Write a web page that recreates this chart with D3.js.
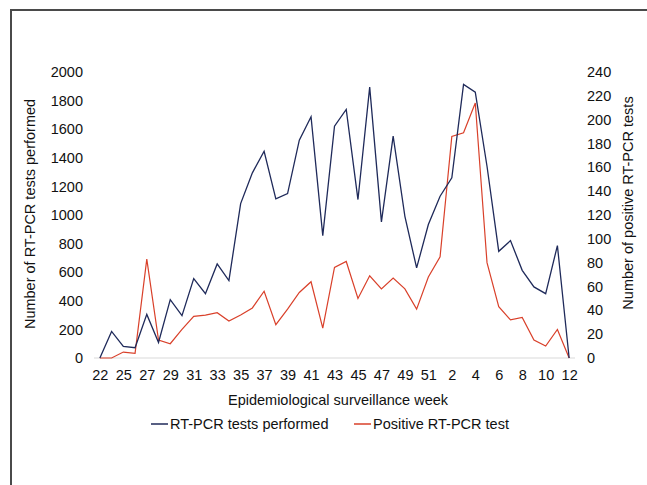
<!DOCTYPE html>
<html>
<head>
<meta charset="utf-8">
<script src="https://cdn.jsdelivr.net/npm/d3@7"></script>
<style>
  body { margin: 0; background: #fff; }
  text { font-family: "Liberation Sans", Arial, sans-serif; fill: #111; }
</style>
</head>
<body>
<div id="chart"></div>
<script>
// epidemiological weeks (every other one is labelled on the axis)
const weeks = ["22","24","25","26","27","28","29","30","31","32","33","34","35","36","37","38","39","40","41","42",
  "43","44","45","46","47","48","49","50","51","52","2","3","4","5","6","7","8","9","10","11","12"]

// RT-PCR tests performed (left axis)
const testsPerformed = [0,186,81,72,305,109,408,296,555,450,658,541,1080,1295,1446,1113,1150,1523,1687,856,
  1621,1738,1108,1894,952,1551,991,630,933,1131,1260,1913,1859,1341,746,821,613,497,450,786,0]

// positive RT-PCR tests (right axis)
const positiveTests = [0,0,5,4,83,15,12,24,35,36,38,31,36,42,56,28,41,55,64,25,
  76,81,50,69,58,67,58,41,68,85,186,189,214,80,43,32,34,15,10,24,0]

const leftTicks = d3.range(0, 2001, 200)
const rightTicks = d3.range(0, 241, 20)

const W = 647, H = 485
const plot = {left: 94, right: 575, top: 72, bottom: 358}
const fs = 14.5

const svg = d3.select("#chart").append("svg")
  .attr("width", W).attr("height", H)

// outer frame (only top and left edges show in the crop)
svg.append("path")
  .attr("d", `M11,${H} L11,10 L${W},10`)
  .attr("fill", "none")
  .attr("stroke", "#4a4a4a")
  .attr("stroke-width", 2)

const x = d3.scalePoint()
  .domain(weeks)
  .range([plot.left, plot.right])
  .padding(0.5)

const yL = d3.scaleLinear().domain([0, 2000]).range([plot.bottom, plot.top])
const yR = d3.scaleLinear().domain([0, 240]).range([plot.bottom, plot.top])

// baseline
svg.append("line")
  .attr("x1", plot.left).attr("x2", plot.right)
  .attr("y1", yL(0)).attr("y2", yL(0))
  .attr("stroke", "#d9d9d9").attr("stroke-width", 1)

// left axis labels
const axL = svg.append("g")
  .attr("transform", `translate(${plot.left - 11},0)`)
  .call(d3.axisLeft(yL).tickValues(leftTicks).tickSize(0).tickPadding(0).tickFormat(d3.format("d")))
axL.select(".domain").remove()
axL.selectAll("text").attr("font-size", fs).style("font-family", "Liberation Sans, Arial, sans-serif").attr("fill", "#111")

// right axis labels
const axR = svg.append("g")
  .attr("transform", `translate(${plot.right + 12},0)`)
  .call(d3.axisRight(yR).tickValues(rightTicks).tickSize(0).tickPadding(0))
axR.select(".domain").remove()
axR.selectAll("text").attr("font-size", fs).style("font-family", "Liberation Sans, Arial, sans-serif").attr("fill", "#111")

// x axis labels, every other week
const axB = svg.append("g")
  .attr("transform", `translate(0,${plot.bottom + 11})`)
  .call(d3.axisBottom(x).tickValues(weeks.filter((d, i) => i % 2 === 0)).tickSize(0).tickPadding(0))
axB.select(".domain").remove()
axB.selectAll("text").attr("font-size", fs).attr("dy", "0.75em").style("font-family", "Liberation Sans, Arial, sans-serif").attr("fill", "#111")

// axis titles
svg.append("text")
  .attr("transform", `translate(35,214) rotate(-90)`)
  .attr("text-anchor", "middle")
  .attr("font-size", fs)
  .text("Number of RT-PCR tests performed")

svg.append("text")
  .attr("transform", `translate(633,203) rotate(-90)`)
  .attr("text-anchor", "middle")
  .attr("font-size", fs)
  .text("Number of positive RT-PCR tests")

svg.append("text")
  .attr("x", 338).attr("y", 405)
  .attr("text-anchor", "middle")
  .attr("font-size", fs)
  .text("Epidemiological surveillance week")

// lines
const blue = "#1f2a5a", red = "#d9402a"

const lineL = d3.line().x((d, i) => x(weeks[i])).y(d => yL(d))
const lineR = d3.line().x((d, i) => x(weeks[i])).y(d => yR(d))

svg.append("path").datum(positiveTests)
  .attr("d", lineR).attr("fill", "none")
  .attr("stroke", red).attr("stroke-width", 1.2)

svg.append("path").datum(testsPerformed)
  .attr("d", lineL).attr("fill", "none")
  .attr("stroke", blue).attr("stroke-width", 1.3)

// legend
const legend = [
  {name: "RT-PCR tests performed", color: blue, x: 151},
  {name: "Positive RT-PCR test", color: red, x: 354}
]
const lg = svg.append("g").attr("transform", "translate(0,424)")
lg.selectAll("line").data(legend).enter().append("line")
  .attr("x1", d => d.x).attr("x2", d => d.x + 17)
  .attr("y1", 0).attr("y2", 0)
  .attr("stroke", d => d.color).attr("stroke-width", 1.5)
lg.selectAll("text").data(legend).enter().append("text")
  .attr("x", d => d.x + 19).attr("y", 5)
  .attr("font-size", fs)
  .text(d => d.name)
</script>
</body>
</html>
